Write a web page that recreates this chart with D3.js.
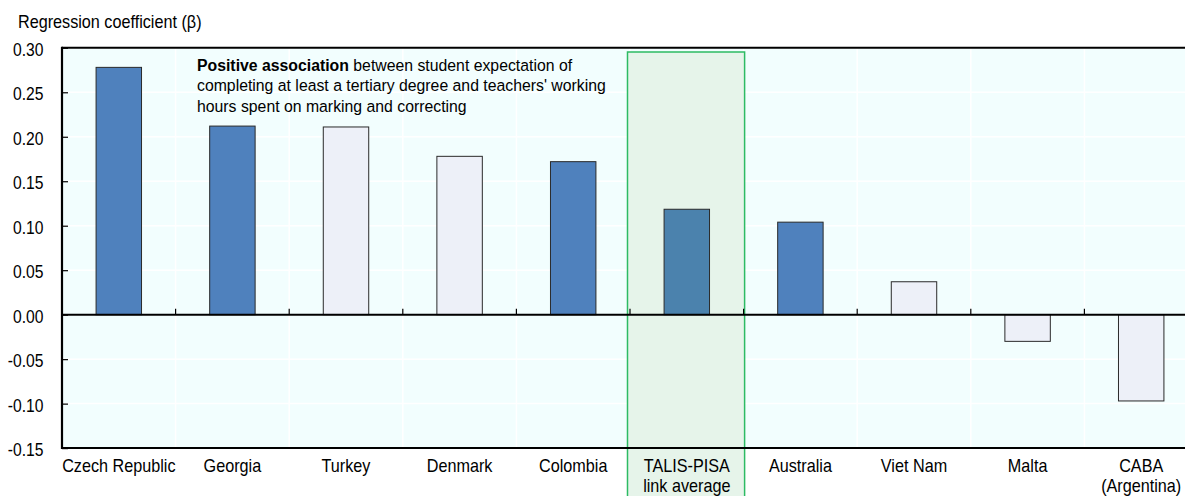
<!DOCTYPE html>
<html>
<head>
<meta charset="utf-8">
<script src="https://cdn.jsdelivr.net/npm/d3@7"></script>
<style>
  html, body { margin: 0; padding: 0; background: #ffffff; }
  svg { display: block; font-family: "Liberation Sans", Arial, sans-serif; }
</style>
</head>
<body>
<svg id="chart" width="1185" height="496"></svg>
<script>
const categories = ["Czech Republic", "Georgia", "Turkey", "Denmark", "Colombia", "TALIS-PISA\nlink average", "Australia", "Viet Nam", "Malta", "CABA\n(Argentina)"];
const values = [0.278, 0.212, 0.211, 0.178, 0.172, 0.1185, 0.104, 0.037, -0.030, -0.097];
const significant = [true, true, false, false, true, true, true, false, false, false];
const yTicks = [-0.15, -0.10, -0.05, 0.00, 0.05, 0.10, 0.15, 0.20, 0.25, 0.30];
const highlight = "TALIS-PISA\nlink average";

(function () {
const svg = d3.select("#chart");
const pLeft = 62, pRight = 1198, pTop = 47.8, pBottom = 448.1;
const FS = 18;

const x = d3.scaleBand().domain(categories).range([pLeft, pRight]).paddingInner(0.6).paddingOuter(0.3);
const xb = d3.scaleBand().domain(categories).range([pLeft, pRight]).padding(0);
const y = d3.scaleLinear().domain([-0.15, 0.30]).range([pBottom, pTop]);

function sText(parent, tx, ty, sx, size, anchor) {
  return parent.append("text")
    .attr("transform", `translate(${tx},${ty}) scale(${sx},1)`)
    .attr("x", 0).attr("y", 0)
    .attr("font-size", size).attr("fill", "#000")
    .attr("text-anchor", anchor || "start");
}

// background
svg.append("rect").attr("x", pLeft).attr("y", pTop).attr("width", pRight - pLeft).attr("height", pBottom - pTop).attr("fill", "#f2fefe");

// grid
svg.append("g").selectAll("line").data(yTicks).join("line")
  .attr("x1", pLeft).attr("x2", pRight).attr("y1", d => y(d)).attr("y2", d => y(d))
  .attr("stroke", "#ffffff").attr("stroke-width", 1.5);
svg.append("g").selectAll("line").data(categories.slice(1)).join("line")
  .attr("x1", d => xb(d)).attr("x2", d => xb(d)).attr("y1", pTop).attr("y2", pBottom)
  .attr("stroke", "#ffffff").attr("stroke-width", 1.5);

// highlight band
const hx = xb(highlight);
svg.append("rect").attr("x", hx - 2.5).attr("y", 52).attr("width", xb.bandwidth() + 3.5).attr("height", 460)
  .attr("fill", "#e6f4ea").attr("stroke", "#2dbb63").attr("stroke-width", 1.5);

// bars
svg.append("g").selectAll("rect").data(categories).join("rect")
  .attr("x", d => x(d))
  .attr("width", x.bandwidth())
  .attr("y", (d, i) => y(Math.max(0, values[i])))
  .attr("height", (d, i) => Math.abs(y(values[i]) - y(0)))
  .attr("fill", (d, i) => d === highlight ? "#4b82ad" : (significant[i] ? "#4f81bd" : "#edf0f8"))
  .attr("stroke", "#2a2a2a").attr("stroke-width", 1);

// x ticks at boundaries (upward from zero line)
svg.append("g").selectAll("line").data(categories.slice(1)).join("line")
  .attr("x1", d => xb(d)).attr("x2", d => xb(d)).attr("y1", y(0)).attr("y2", y(0) - 6)
  .attr("stroke", "#000").attr("stroke-width", 1.2);

// zero line
svg.append("line").attr("x1", pLeft).attr("x2", pRight).attr("y1", y(0)).attr("y2", y(0))
  .attr("stroke", "#000").attr("stroke-width", 2);

// border top/bottom
svg.append("line").attr("x1", pLeft).attr("x2", pRight).attr("y1", pTop).attr("y2", pTop).attr("stroke", "#000").attr("stroke-width", 2);
svg.append("line").attr("x1", pLeft).attr("x2", pRight).attr("y1", pBottom).attr("y2", pBottom).attr("stroke", "#000").attr("stroke-width", 2);

// y axis (ticks via d3 axis, labels drawn with horizontal scaling)
const yAxis = d3.axisLeft(y).tickValues(yTicks).tickSize(-6).tickFormat("");
const ya = svg.append("g").attr("transform", `translate(${pLeft},0)`).call(yAxis);
ya.select(".domain").remove();
ya.selectAll(".tick line").attr("stroke", "#000").attr("stroke-width", 1.2);
const fmt = d => d3.format(".2f")(d).replace("−", "-");
yTicks.forEach(t => {
  sText(svg, 43.5, y(t) + 8, 0.87, FS, "end").text(fmt(t));
});
svg.append("line").attr("x1", pLeft).attr("x2", pLeft).attr("y1", pTop - 1).attr("y2", pBottom + 1).attr("stroke", "#000").attr("stroke-width", 2.2);

// x labels
categories.forEach(c => {
  const lines = c.split("\n");
  lines.forEach((l, i) => {
    sText(svg, xb(c) + xb.bandwidth() / 2, 472 + i * 20, 0.9, FS, "middle").text(l);
  });
});

// axis title
sText(svg, 18, 28, 0.9, FS).text("Regression coefficient (β)");

// annotation
const ann = sText(svg, 197, 70.5, 0.93, 17);
ann.append("tspan").attr("font-weight", "bold").text("Positive association");
ann.append("tspan").text(" between student expectation of");
sText(svg, 197, 91.2, 0.93, 17).text("completing at least a tertiary degree and teachers' working");
sText(svg, 197, 112, 0.93, 17).text("hours spent on marking and correcting");
})();
</script>
</body>
</html>
